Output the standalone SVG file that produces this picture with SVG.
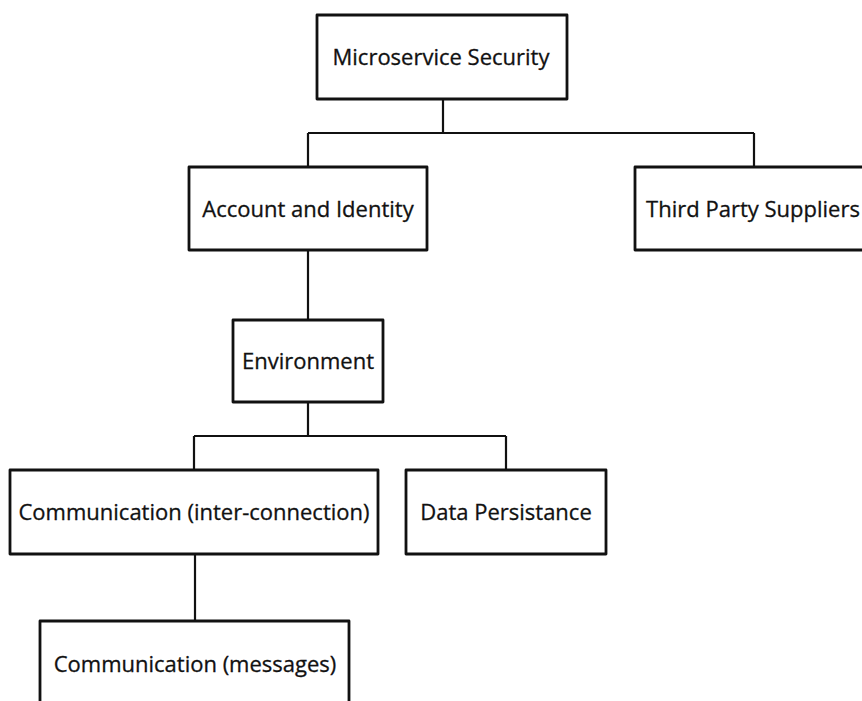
<svg xmlns="http://www.w3.org/2000/svg" width="862" height="701" viewBox="0 0 862 701">
<style>
.box{fill:#fff;stroke:#111;stroke-width:2.8;stroke-linejoin:round}
.lbl{font-family:"Open Sans","Liberation Sans",sans-serif;font-size:22px;fill:#111;text-anchor:middle;dominant-baseline:central;stroke:#111;stroke-width:0.3}
.conn{fill:none;stroke:#111;stroke-width:2.2}
</style>
<rect width="862" height="701" fill="#fff"/>
<g id="connectors">
<path class="conn" d="M443 99V133M308 133H754M308 133V167M754 133V167"/>
<path class="conn" d="M308 250V320"/>
<path class="conn" d="M308 402V436M194 436H506M194 436V470M506 436V470"/>
<path class="conn" d="M195 554V621"/>
</g>
<g id="microservice-security"><rect class="box" x="317" y="15" width="250" height="84"/><text class="lbl" x="441" y="56">Microservice Security</text></g>
<g id="account-identity"><rect class="box" x="189" y="167" width="238" height="83"/><text class="lbl" x="308" y="208">Account and Identity</text></g>
<g id="third-party"><rect class="box" x="635" y="167" width="240" height="83"/><text class="lbl" x="753" y="208">Third Party Suppliers</text></g>
<g id="environment"><rect class="box" x="233" y="320" width="150" height="82"/><text class="lbl" x="308" y="360">Environment</text></g>
<g id="comm-inter"><rect class="box" x="10" y="470" width="368" height="84"/><text class="lbl" x="194" y="511">Communication (inter-connection)</text></g>
<g id="data-persistance"><rect class="box" x="406" y="470" width="200" height="84"/><text class="lbl" x="506" y="511">Data Persistance</text></g>
<g id="comm-messages"><rect class="box" x="40" y="621" width="309" height="100"/><text class="lbl" x="195" y="663">Communication (messages)</text></g>
</svg>
